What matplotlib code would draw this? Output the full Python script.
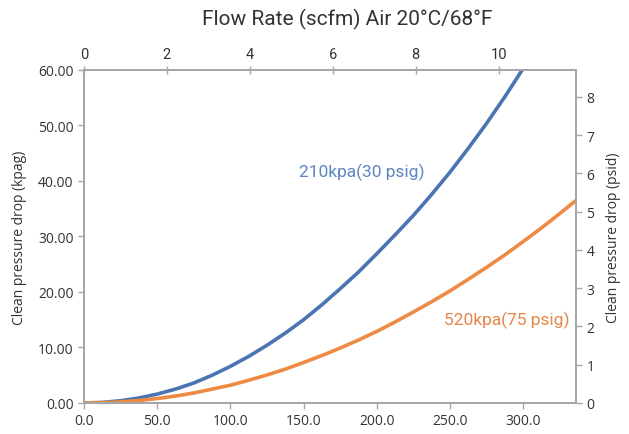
import matplotlib
matplotlib.use("Agg")
import matplotlib.pyplot as plt

# flow in L/min (bottom axis), clean pressure drop in kpag
flow_210 = [0, 12.5, 25, 37.5, 50, 62.5, 75, 87.5, 100, 112.5, 125, 137.5, 150,
            162.5, 175, 187.5, 200, 212.5, 225, 237.5, 250, 262.5, 275, 287.5, 300]
dp_210   = [0, 0.1, 0.4, 0.9, 1.6, 2.5, 3.6, 5.0, 6.6, 8.4, 10.4, 12.6, 15.0,
            17.7, 20.6, 23.6, 26.9, 30.3, 33.8, 37.6, 41.6, 45.9, 50.4, 55.2, 60.3]

flow_520 = [0, 12.5, 25, 37.5, 50, 62.5, 75, 87.5, 100, 112.5, 125, 137.5, 150,
            162.5, 175, 187.5, 200, 212.5, 225, 237.5, 250, 262.5, 275, 287.5,
            300, 312.5, 325, 336]
dp_520   = [0, 0.05, 0.2, 0.45, 0.8, 1.25, 1.8, 2.5, 3.2, 4.1, 5.05, 6.1, 7.3,
            8.55, 9.9, 11.35, 12.9, 14.6, 16.4, 18.25, 20.2, 22.3, 24.45, 26.7,
            29.1, 31.55, 34.15, 36.5]

label_210 = "210kpa(30 psig)"
label_520 = "520kpa(75 psig)"
title = "Flow Rate (scfm) Air 20°C/68°F"

xticks_lpm  = [0, 50, 100, 150, 200, 250, 300]
xticks_scfm = [0, 2, 4, 6, 8, 10]
yticks_kpa  = [0, 10, 20, 30, 40, 50, 60]
yticks_psi  = [0, 1, 2, 3, 4, 5, 6, 7, 8]

X_MAX = 336.0
Y_MAX = 60.0
LPM_PER_SCFM = 28.317
KPA_PER_PSI = 6.895

BLUE = "#4a74b2"
ORANGE = "#ef8a45"
GRID = "#a6a6a6"
TXT = "#333333"
TICK_FONT = "Open Sans"
DIN_FONT = "Roboto"

fig = plt.figure(figsize=(6.29, 4.35), dpi=100)
ax = fig.add_axes([0.1335, 0.0713, 0.7822, 0.7655])

ax.plot(flow_210, dp_210, color=BLUE, lw=2.6)
ax.plot(flow_520, dp_520, color=ORANGE, lw=2.6)

ax.set_xlim(0, X_MAX)
ax.set_ylim(0, Y_MAX)
ax.set_xticks(xticks_lpm)
ax.set_xticklabels([f"{v:.1f}" for v in xticks_lpm], family=TICK_FONT)
ax.set_yticks(yticks_kpa)
ax.set_yticklabels([f"{v:.2f}" for v in yticks_kpa], family=TICK_FONT)
ax.set_ylabel("Clean pressure drop (kpag)", fontsize=10, color=TXT,
              family=TICK_FONT, labelpad=8)

ax.text(190, 41.8, label_210, color="#5b86c0", fontsize=12.5,
        ha="center", va="center", family=DIN_FONT)
ax.text(289, 15.1, label_520, color="#e5864a", fontsize=12.5,
        ha="center", va="center", family=DIN_FONT)

# top axis: scfm
axt = ax.twiny()
axt.set_xlim(0, X_MAX / LPM_PER_SCFM)
axt.set_xticks(xticks_scfm)
axt.set_xticklabels([str(v) for v in xticks_scfm], family=DIN_FONT)

# right axis: psid
axr = ax.twinx()
axr.set_ylim(0, Y_MAX / KPA_PER_PSI)
axr.set_yticks(yticks_psi)
axr.set_yticklabels([str(v) for v in yticks_psi], family=TICK_FONT)
axr.set_ylabel("Clean pressure drop (psid)", fontsize=10, color=TXT,
               family=TICK_FONT, labelpad=8)

for a in (ax, axt, axr):
    for s in a.spines.values():
        s.set_color(GRID)
        s.set_linewidth(1.2)
    a.tick_params(colors=GRID, labelcolor=TXT, labelsize=10, length=4, width=1)
axt.tick_params(labelsize=10.5, direction="inout", length=6)

fig.text(0.552, 0.956, title, fontsize=15, color=TXT, family=DIN_FONT,
         ha="center", va="center")

fig.savefig("out.png", dpi=100)
